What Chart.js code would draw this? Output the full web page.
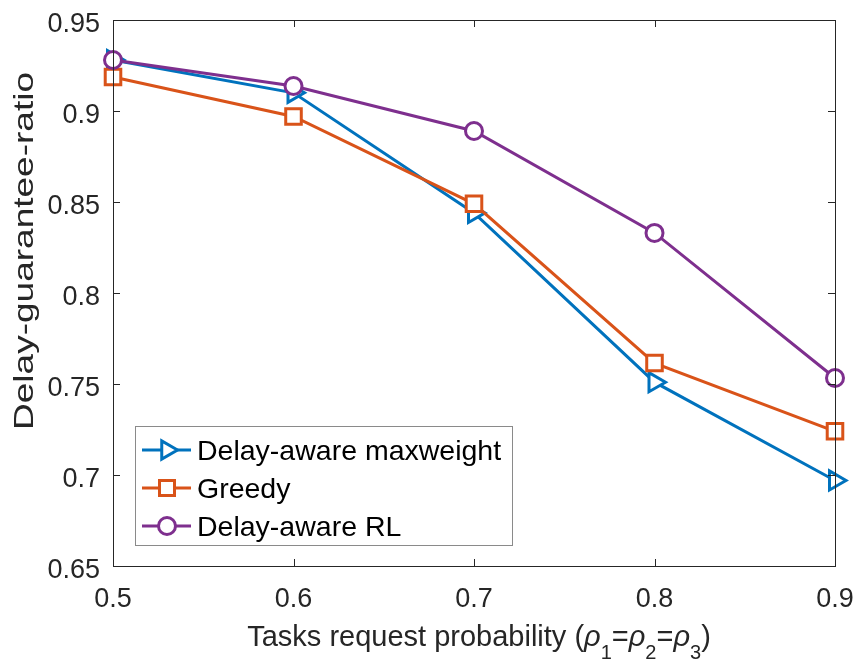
<!DOCTYPE html>
<html>
<head>
<meta charset="utf-8">
<script src="https://cdn.jsdelivr.net/npm/chart.js@4/dist/chart.umd.min.js"></script>
<style>
  html, body { margin: 0; padding: 0; background: #fff; }
  #wrap { width: 856px; height: 665px; position: relative; }
</style>
</head>
<body>
<div id="wrap"><canvas id="delayChart"></canvas></div>
<script>
// Values
const probs = [0.5, 0.6, 0.7, 0.8, 0.9];
const maxweight = [0.928, 0.910, 0.844, 0.751, 0.697];
const greedy = [0.9187, 0.897, 0.849, 0.7615, 0.724];
const delayRL = [0.928, 0.9137, 0.889, 0.833, 0.7533];

const xTickLabels = ['0.5', '0.6', '0.7', '0.8', '0.9'];
const yTickLabels = ['0.65', '0.7', '0.75', '0.8', '0.85', '0.9', '0.95'];

const seriesNames = ['Delay-aware maxweight', 'Greedy', 'Delay-aware RL'];
const seriesColors = ['#0072BD', '#D95319', '#7E2F8E'];

const FONT = '"Liberation Sans", Arial, Helvetica, sans-serif';
const AXIS_COLOR = '#262626';
const LW = 3;

function toPoints(ys) {
  return probs.map((x, i) => ({ x: x, y: ys[i] }));
}

// small marker painter used for the legend
function drawMarker(ctx, style, x, y, color) {
  ctx.save();
  ctx.strokeStyle = color;
  ctx.fillStyle = '#fff';
  ctx.lineWidth = LW;
  ctx.beginPath();
  if (style === 'triangle') {
    const r = 10.5;
    ctx.moveTo(x + r, y);
    ctx.lineTo(x - r / 2, y - r * 0.866);
    ctx.lineTo(x - r / 2, y + r * 0.866);
    ctx.closePath();
  } else if (style === 'rect') {
    ctx.rect(x - 7.5, y - 7.5, 15, 15);
  } else {
    ctx.arc(x, y, 8.5, 0, Math.PI * 2);
  }
  ctx.fill();
  ctx.stroke();
  ctx.restore();
}

const matlabAxes = {
  id: 'matlabAxes',
  afterDraw(chart) {
    const ctx = chart.ctx;
    const area = chart.chartArea;
    const xs = chart.scales.x;
    const ys = chart.scales.y;
    ctx.save();

    // box + inward ticks
    ctx.strokeStyle = AXIS_COLOR;
    ctx.lineWidth = 1;
    ctx.strokeRect(area.left + 0.5, area.top + 0.5, area.right - area.left, area.bottom - area.top);
    ctx.beginPath();
    xTickLabels.forEach(t => {
      const px = Math.round(xs.getPixelForValue(parseFloat(t))) + 0.5;
      ctx.moveTo(px, area.bottom); ctx.lineTo(px, area.bottom - 7);
      ctx.moveTo(px, area.top); ctx.lineTo(px, area.top + 7);
    });
    yTickLabels.forEach(t => {
      const py = Math.round(ys.getPixelForValue(parseFloat(t))) + 0.5;
      ctx.moveTo(area.left, py); ctx.lineTo(area.left + 7, py);
      ctx.moveTo(area.right, py); ctx.lineTo(area.right - 7, py);
    });
    ctx.stroke();

    // tick labels
    ctx.fillStyle = AXIS_COLOR;
    ctx.font = '27px ' + FONT;
    ctx.textBaseline = 'alphabetic';
    ctx.textAlign = 'center';
    xTickLabels.forEach(t => {
      ctx.fillText(t, xs.getPixelForValue(parseFloat(t)), area.bottom + 41);
    });
    ctx.textAlign = 'right';
    yTickLabels.forEach(t => {
      ctx.fillText(t, area.left - 13, ys.getPixelForValue(parseFloat(t)) + 12);
    });

    // y axis title (stretched along its length like the original)
    ctx.save();
    ctx.font = '28px ' + FONT;
    const yTitle = 'Delay-guarantee-ratio';
    const w = ctx.measureText(yTitle).width;
    ctx.translate(33, 251);
    ctx.rotate(-Math.PI / 2);
    ctx.scale(358 / w, 1);
    ctx.textAlign = 'center';
    ctx.fillText(yTitle, 0, 0);
    ctx.restore();

    // x axis title with subscripts
    const main = '29px ' + FONT;
    const ital = 'italic 29px ' + FONT;
    const sub = '20px ' + FONT;
    const parts = [
      ['Tasks request probability (', main, 0],
      ['\u03C1', ital, 0], ['1', sub, 13], ['=', main, 0],
      ['\u03C1', ital, 0], ['2', sub, 13], ['=', main, 0],
      ['\u03C1', ital, 0], ['3', sub, 13], [')', main, 0]
    ];
    let total = 0;
    parts.forEach(p => { ctx.font = p[1]; total += ctx.measureText(p[0]).width; });
    let cx = 479 - total / 2;
    ctx.textAlign = 'left';
    parts.forEach(p => {
      ctx.font = p[1];
      ctx.fillText(p[0], cx, 646 + p[2]);
      cx += ctx.measureText(p[0]).width;
    });

    // legend
    const lx = 135, ly = 426, lw = 377, lh = 119;
    ctx.fillStyle = '#fff';
    ctx.fillRect(lx, ly, lw, lh);
    ctx.strokeStyle = '#8a8a8a';
    ctx.lineWidth = 1;
    ctx.strokeRect(lx + 0.5, ly + 0.5, lw, lh);
    const styles = ['triangle', 'rect', 'circle'];
    const rows = [450, 488, 526];
    ctx.font = '28.5px ' + FONT;
    ctx.textBaseline = 'middle';
    seriesNames.forEach((name, i) => {
      ctx.strokeStyle = seriesColors[i];
      ctx.lineWidth = LW;
      ctx.beginPath();
      ctx.moveTo(142, rows[i]); ctx.lineTo(191, rows[i]);
      ctx.stroke();
      drawMarker(ctx, styles[i], 167, rows[i], seriesColors[i]);
      ctx.fillStyle = '#000';
      ctx.fillText(name, 197, rows[i] + 2);
    });

    ctx.restore();
  }
};

new Chart(document.getElementById('delayChart'), {
  type: 'line',
  data: {
    datasets: [
      {
        label: seriesNames[0],
        data: toPoints(maxweight),
        borderColor: seriesColors[0],
        backgroundColor: '#fff',
        borderWidth: LW,
        pointStyle: 'triangle',
        rotation: 90,
        pointRadius: 11,
        pointBorderWidth: LW,
        order: 3,
        clip: false
      },
      {
        label: seriesNames[1],
        data: toPoints(greedy),
        borderColor: seriesColors[1],
        backgroundColor: '#fff',
        borderWidth: LW,
        pointStyle: 'rect',
        pointRadius: 11,
        pointBorderWidth: LW,
        order: 2,
        clip: false
      },
      {
        label: seriesNames[2],
        data: toPoints(delayRL),
        borderColor: seriesColors[2],
        backgroundColor: '#fff',
        borderWidth: LW,
        pointStyle: 'circle',
        pointRadius: 8.5,
        pointBorderWidth: LW,
        order: 1,
        clip: false
      }
    ]
  },
  options: {
    responsive: true,
    maintainAspectRatio: false,
    animation: false,
    layout: { padding: { left: 0, top: 20, right: 21, bottom: 0 } },
    plugins: {
      legend: { display: false },
      tooltip: { enabled: false }
    },
    scales: {
      x: {
        type: 'linear',
        min: 0.5,
        max: 0.9,
        grid: { display: false },
        border: { display: false },
        ticks: { display: false, stepSize: 0.1 },
        afterFit(scale) { scale.height = 99; }
      },
      y: {
        type: 'linear',
        min: 0.65,
        max: 0.95,
        grid: { display: false },
        border: { display: false },
        ticks: { display: false, stepSize: 0.05 },
        afterFit(scale) { scale.width = 113; }
      }
    }
  },
  plugins: [matlabAxes]
});
</script>
</body>
</html>
